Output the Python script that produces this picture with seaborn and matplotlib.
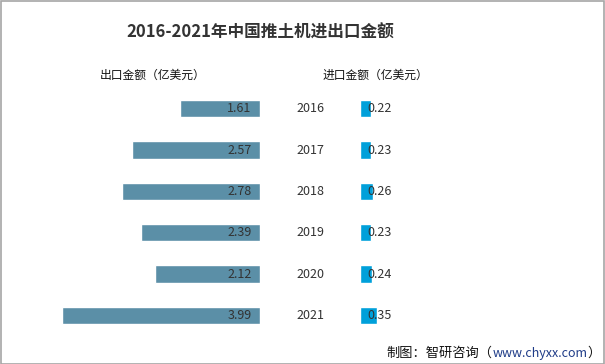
import matplotlib
matplotlib.use("Agg")
import matplotlib.pyplot as plt
import matplotlib.transforms as mtransforms
import seaborn as sns
import pandas as pd

# ——— Data ———
years = ["2016", "2017", "2018", "2019", "2020", "2021"]
export_values = [1.61, 2.57, 2.78, 2.39, 2.12, 3.99]
import_values = [0.22, 0.23, 0.26, 0.23, 0.24, 0.35]

title = "2016-2021年中国推土机进出口金额"
export_label = "出口金额（亿美元）"
import_label = "进口金额（亿美元）"

df = pd.DataFrame({"year": years, "export": export_values, "import": import_values})

sns.set_theme(style="white")
plt.rcParams["font.family"] = ["Noto Sans CJK SC", "DejaVu Sans"]

W, H = 605, 364
fig = plt.figure(figsize=(W / 100, H / 100), dpi=100)

def px_axes(x0, y0, w, h):
    # pixel box (top-left origin) -> figure fraction
    return fig.add_axes([x0 / W, 1 - (y0 + h) / H, w / W, h / H])

xmax = 200 / 49.7
ax_l = px_axes(60, 88, 200, 248)
ax_r = px_axes(360, 88, 200, 248)

sns.barplot(data=df, x="export", y="year", orient="h", color="#5B8FA7",
            saturation=1, width=0.42, ax=ax_l)
sns.barplot(data=df, x="import", y="year", orient="h", color="#00A0DA",
            saturation=1, width=0.42, ax=ax_r)

ax_l.set_xlim(xmax, 0)
ax_r.set_xlim(0, xmax)
for ax in (ax_l, ax_r):
    ax.set_ylim(5.5, -0.5)
    ax.set_axis_off()

for i, v in enumerate(export_values):
    ax_l.annotate(f"{v:.2f}", (0, i), xytext=(-6, 0), textcoords="offset points",
                  ha="right", va="center", fontsize=9, color="#333333")
for i, v in enumerate(import_values):
    ax_r.annotate(f"{v:.2f}", (0, i), xytext=(5, 0), textcoords="offset points",
                  ha="left", va="center", fontsize=9, color="#333333")

# year labels in the middle column
trans = mtransforms.blended_transform_factory(fig.transFigure, ax_l.transData)
for i, yr in enumerate(years):
    ax_l.text(310 / W, i, yr, transform=trans, ha="center", va="center",
              fontsize=9, color="#333333")

fig.text(260 / W, 1 - 33 / H, title, ha="center", va="center",
         fontsize=12, fontweight="bold", color="#333333")
fig.text(153 / W, 1 - 75 / H, export_label, ha="center", va="center",
         fontsize=8.5, color="#111111")
fig.text(375 / W, 1 - 75 / H, import_label, ha="center", va="center",
         fontsize=8.5, color="#111111")

# footer, laid out right to left so it ends inside the border
fy = 1 - 353 / H
t3 = fig.text(601 / W, fy, "）", ha="right", va="center",
              fontsize=9.5, color="#111111")
fig.canvas.draw()
x = t3.get_window_extent().x0
t2 = fig.text(x / W, fy, "www.chyxx.com", ha="right", va="center",
              fontsize=9, color="#1F3C88")
fig.canvas.draw()
x = t2.get_window_extent().x0
fig.text(x / W, fy, "制图：智研咨询（", ha="right", va="center",
         fontsize=9.5, color="#111111")

# outer border
fig.patches.append(plt.Rectangle((0.5 / W, 0.5 / H), 1 - 1.5 / W, 1 - 1.5 / H,
                                 transform=fig.transFigure, fill=False,
                                 edgecolor="#A6A6A6", linewidth=1.2))

fig.savefig("out.png", dpi=100)
